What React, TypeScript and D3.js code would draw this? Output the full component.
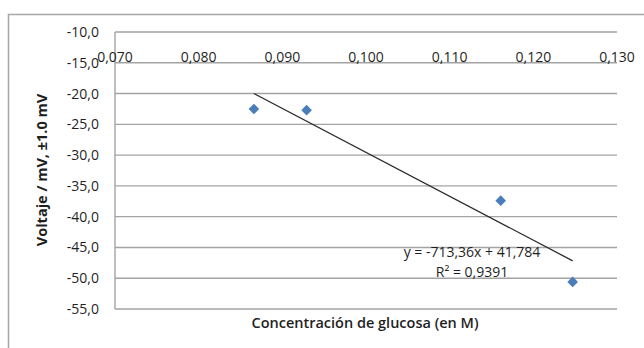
import React from "react";
import * as d3 from "d3";

const xValues = [0.0866, 0.0929, 0.1161, 0.1247];
const yValues = [-22.5, -22.7, -37.4, -50.6];
const slope = -713.36;
const intercept = 41.784;
const rSquared = "0,9391";
const xTicks = [0.07, 0.08, 0.09, 0.1, 0.11, 0.12, 0.13];
const yTicks = [-10, -15, -20, -25, -30, -35, -40, -45, -50, -55];
const xTitle = "Concentración de glucosa (en M)";
const yTitle = "Voltaje / mV, ±1.0 mV";

const W = 644;
const H = 348;
const FONT = "'Open Sans', 'Noto Sans', sans-serif";

export default function App() {
  const x = d3.scaleLinear().domain([0.07, 0.13]).range([115, 617]);
  const y = d3.scaleLinear().domain([-55, -10]).range([309, 32]);
  const fix = (s: string) => s.replace("\u2212", "-").replace(".", ",");
  const fmtX = (v: number) => fix(d3.format(".3f")(v));
  const fmtY = (v: number) => fix(d3.format(".1f")(v));
  const x0 = d3.min(xValues)!;
  const x1 = d3.max(xValues)!;
  const line = d3.line<number>().x((d) => x(d)).y((d) => y(slope * d + intercept));
  const diamond = d3.symbol().type(d3.symbolDiamond2).size(72)();
  const textColor = "#1f1f1f";
  const grid = "#a3a3a3";
  return (
    <svg width={W} height={H} style={{ position: "absolute", left: 0, top: 0, background: "#fff" }}>
      <rect x={0} y={0} width={W} height={H} fill="#fff" />
      <path d={`M8.5,${H} V14.5 H${W}`} fill="none" stroke="#a6a6a6" strokeWidth={1.5} />
      {yTicks.map((t) => (
        <line key={t} x1={x(0.07)} x2={x(0.13)} y1={y(t)} y2={y(t)} stroke={grid} strokeWidth={1.4} />
      ))}
      <line x1={x(0.07)} x2={x(0.07)} y1={y(-10)} y2={y(-55)} stroke={grid} strokeWidth={1.4} />
      {yTicks.map((t) => (
        <text key={t} x={99} y={y(t) + 5} textAnchor="end" fontFamily={FONT} fontSize={14} fill={textColor}>
          {fmtY(t)}
        </text>
      ))}
      {xTicks.map((t) => (
        <text key={t} x={x(t)} y={y(-15) - 1} textAnchor="middle" fontFamily={FONT} fontSize={14} fill={textColor}>
          {fmtX(t)}
        </text>
      ))}
      <path d={line([x0, x1]) || ""} fill="none" stroke="#2b2b2b" strokeWidth={1.3} />
      {xValues.map((v, i) => (
        <path key={i} d={diamond || ""} transform={`translate(${x(v)},${y(yValues[i])})`} fill="#4a7ebb" />
      ))}
      <text x={472} y={257} textAnchor="middle" fontFamily={FONT} fontSize={14} fill={textColor}>
        {`y = ${String(slope).replace(".", ",")}x + ${String(intercept).replace(".", ",")}`}
      </text>
      <text x={472} y={277} textAnchor="middle" fontFamily={FONT} fontSize={14} fill={textColor}>
        {`R² = ${rSquared}`}
      </text>
      <text x={365} y={328} textAnchor="middle" fontFamily={FONT} fontSize={14.5} fontWeight={600} fill={textColor}>
        {xTitle}
      </text>
      <text
        transform={`translate(47,170) rotate(-90)`}
        textAnchor="middle"
        fontFamily={FONT}
        fontSize={14.5}
        fontWeight={700}
        fill={textColor}
      >
        {yTitle}
      </text>
    </svg>
  );
}
